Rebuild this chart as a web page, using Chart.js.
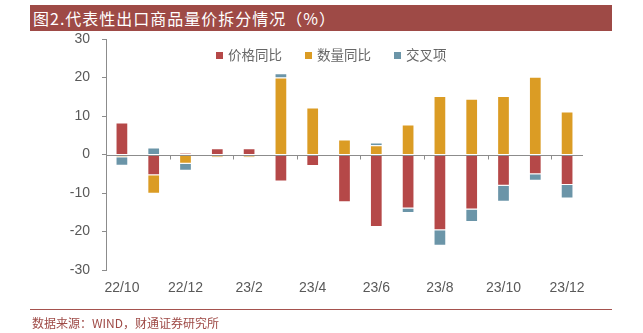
<!DOCTYPE html>
<html lang="zh">
<head>
<meta charset="UTF-8">
<title>代表性出口商品量价拆分情况</title>
<script src="https://cdn.jsdelivr.net/npm/chart.js"></script>
<style>
  body { margin: 0; background: #fff; }
  #wrap { position: relative; width: 643px; height: 333px; overflow: hidden; }
  #banner {
    position: absolute; left: 30px; top: 5px; width: 582px; height: 26px;
    background: #9e4a46; color: #fff;
    font-family: 'Noto Sans CJK SC', sans-serif; font-size: 16px; line-height: 26px;
    padding-left: 3px; box-sizing: border-box; letter-spacing: 1px;
  }
  #legend {
    position: absolute; top: 44px; left: 216px;
    font-family: 'Noto Sans CJK SC', sans-serif; font-size: 13.5px; color: #666;
    white-space: nowrap;
  }
  #legend span.item { position: absolute; top: 0; }
  #legend i { display: inline-block; width: 7px; height: 7px; margin-right: 5px; vertical-align: 1px; }
  #footline { position: absolute; left: 30px; top: 309px; width: 582px; height: 1px; background: #a5524e; }
  #source {
    position: absolute; left: 32px; top: 314px;
    font-family: 'Noto Sans CJK SC', sans-serif; font-size: 12px; color: #9e4a46;
  }
  canvas { position: absolute; left: 0; top: 0; }
</style>
</head>
<body>
<div id="wrap">
  <canvas id="grafica" width="643" height="333"></canvas>
  <div id="banner">图2.代表性出口商品量价拆分情况（%）</div>
  <div id="legend">
    <span class="item" style="left:0"><i style="background:#b54848"></i>价格同比</span>
    <span class="item" style="left:89px"><i style="background:#db9c24"></i>数量同比</span>
    <span class="item" style="left:178px"><i style="background:#6b95a8"></i>交叉项</span>
  </div>
  <div id="footline"></div>
  <div id="source">数据来源：WIND，财通证券研究所</div>
</div>
<script>
const meses = ['22/10','22/11','22/12','23/1','23/2','23/3','23/4','23/5','23/6','23/7','23/8','23/9','23/10','23/11','23/12'];
const precio = [8.3, -5.4, 0.35, 1.6, 1.6, -7.0, -3.0, -12.4, -18.8, -14.0, -19.7, -14.3, -8.1, -5.1, -7.9];
const cantidad = [-0.7, -4.8, -2.4, -0.8, -0.8, 20.0, 12.2, 3.9, 2.4, 7.8, 15.2, 14.5, 15.2, 20.2, 11.2];
const cruce = [-2.2, 1.8, -1.8, -0.05, -0.05, 1.1, 0, 0, 0.7, -1.2, -4.0, -3.2, -4.2, -1.7, -3.5];
const yTicks = [-30, -20, -10, 0, 10, 20, 30];

const gris = '#8c8c8c';

// linea del cero y sus marcas cada dos meses
const lineaCero = {
  id: 'lineaCero',
  afterDatasetsDraw(chart) {
    const { ctx, chartArea, scales } = chart;
    const y0 = Math.round(scales.y.getPixelForValue(0)) + 0.5;
    ctx.save();
    ctx.strokeStyle = gris;
    ctx.lineWidth = 1.2;
    ctx.beginPath();
    ctx.moveTo(chartArea.left, y0);
    ctx.lineTo(chartArea.right, y0);
    ctx.stroke();
    ctx.lineWidth = 1;
    for (let i = 2; i < meses.length; i += 2) {
      const x = Math.round((scales.x.getPixelForValue(i - 1) + scales.x.getPixelForValue(i)) / 2) + 0.5;
      ctx.beginPath();
      ctx.moveTo(x, y0);
      ctx.lineTo(x, y0 + 4);
      ctx.stroke();
    }
    ctx.restore();
  }
};

new Chart(document.getElementById('grafica'), {
  type: 'bar',
  data: {
    labels: meses,
    datasets: [
      { label: '价格同比', data: precio, backgroundColor: '#b54848' },
      { label: '数量同比', data: cantidad, backgroundColor: '#db9c24' },
      { label: '交叉项', data: cruce, backgroundColor: '#6b95a8' }
    ]
  },
  options: {
    responsive: false,
    animation: false,
    layout: { padding: { left: 36, top: 39, right: 60, bottom: 33 } },
    datasets: { bar: { categoryPercentage: 1, barPercentage: 0.4, borderWidth: 1, borderColor: 'rgba(255,255,255,0.5)' } },
    plugins: { legend: { display: false }, tooltip: { enabled: false } },
    scales: {
      x: {
        stacked: true,
        offset: true,
        grid: { display: false },
        border: { display: false },
        afterFit: s => { s.height = 30; },
        ticks: {
          autoSkip: false, maxRotation: 0, padding: 2,
          color: '#595959', font: { family: 'Liberation Sans', size: 14 },
          callback: (v, i) => (i % 2 === 0 ? meses[i] : '')
        }
      },
      y: {
        stacked: true,
        min: -30, max: 30,
        afterFit: s => { s.width = 70; },
        afterBuildTicks: s => { s.ticks = yTicks.map(v => ({ value: v })); },
        border: { display: true, color: gris, width: 1 },
        grid: { drawOnChartArea: false, drawTicks: true, tickLength: 4, color: gris },
        ticks: { padding: 12, color: '#595959', font: { family: 'Liberation Sans', size: 14 } }
      }
    }
  },
  plugins: [lineaCero]
});
</script>
</body>
</html>
